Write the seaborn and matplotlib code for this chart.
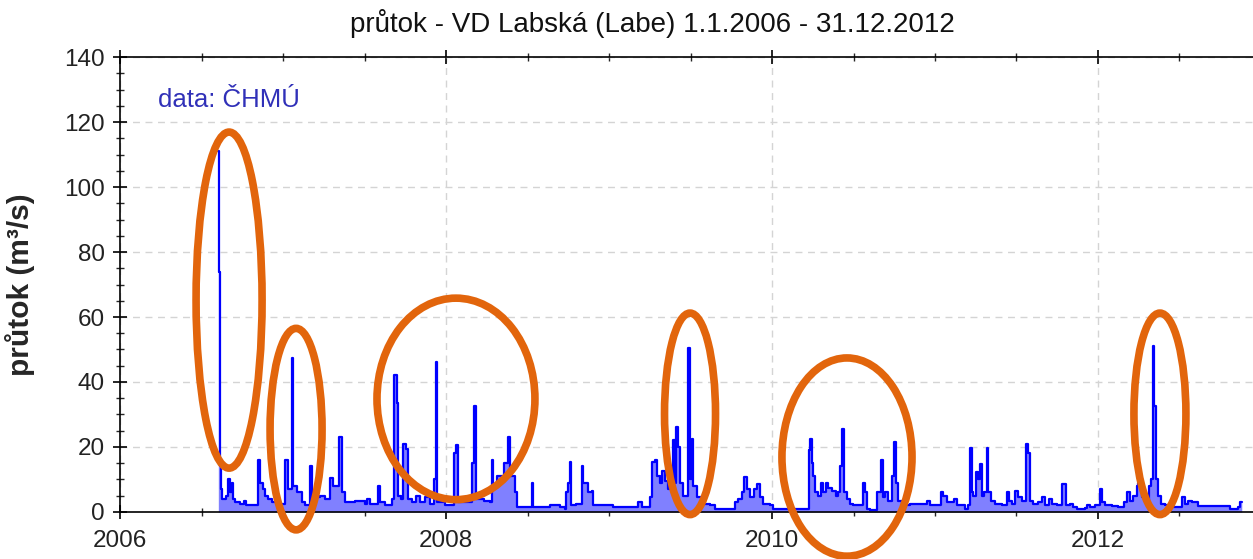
import numpy as np
import pandas as pd
import matplotlib
matplotlib.use("Agg")
import matplotlib.pyplot as plt
from matplotlib.patches import Ellipse
from matplotlib.ticker import MultipleLocator
import seaborn as sns

# průtok VD Labská (čas v desetinných rocích od 2006)
years_frac = [
    0.603, 0.609, 0.615, 0.620, 0.626, 0.650, 0.664, 0.675, 0.685, 0.693, 0.706, 0.736, 0.763, 0.773,
    0.828, 0.845, 0.859, 0.877, 0.890, 0.908, 0.931, 0.961, 0.975, 1.012, 1.033, 1.057, 1.063, 1.086,
    1.115, 1.135, 1.166, 1.175, 1.196, 1.227, 1.258, 1.288, 1.309, 1.339, 1.344, 1.360, 1.380, 1.442,
    1.503, 1.513, 1.534, 1.585, 1.595,
    1.626, 1.667, 1.681, 1.698, 1.707, 1.724, 1.738, 1.755, 1.764, 1.791, 1.816, 1.840, 1.871, 1.902,
    1.926, 1.937, 1.947, 1.994, 2.035, 2.048, 2.061, 2.072, 2.117, 2.158, 2.161, 2.172, 2.184, 2.233,
    2.270, 2.280, 2.290, 2.311, 2.351, 2.356, 2.382, 2.393, 2.413, 2.423, 2.434, 2.515, 2.529, 2.535,
    2.607, 2.638, 2.699,
    2.730, 2.734, 2.750, 2.761, 2.767, 2.798, 2.828, 2.833, 2.843, 2.863, 2.873, 2.894, 2.904, 2.945,
    3.026, 3.170, 3.176, 3.200, 3.252, 3.262, 3.282, 3.293, 3.313, 3.323, 3.344, 3.364, 3.385, 3.395,
    3.405, 3.411, 3.426, 3.436, 3.456, 3.487, 3.497, 3.507, 3.518, 3.538, 3.569, 3.620, 3.650, 3.742,
    3.763, 3.773, 3.793, 3.814, 3.830, 3.845, 3.865, 3.890, 3.906, 3.926, 3.947, 3.988, 4.008, 4.018,
    4.223, 4.227, 4.233, 4.244, 4.253, 4.264, 4.284, 4.299, 4.315, 4.331, 4.346, 4.366, 4.393, 4.407,
    4.417, 4.431, 4.442, 4.458, 4.479, 4.499, 4.557, 4.560, 4.571, 4.585, 4.601, 4.636, 4.642, 4.667,
    4.683, 4.693, 4.714, 4.734, 4.748, 4.759, 4.775, 4.796, 4.847, 4.877,
    4.939, 4.949, 4.969, 5.020, 5.037, 5.051, 5.072, 5.102, 5.118, 5.133, 5.184, 5.204, 5.215, 5.225,
    5.235, 5.252, 5.262, 5.276, 5.287, 5.303, 5.317, 5.327, 5.344, 5.368, 5.409, 5.440, 5.454, 5.471,
    5.491, 5.511, 5.532, 5.558, 5.572, 5.583, 5.603, 5.634, 5.655, 5.675, 5.699, 5.716, 5.747, 5.781,
    5.802, 5.828, 5.849, 5.869,
    5.920, 5.931, 5.951, 5.982, 6.012, 6.023, 6.043, 6.084, 6.125, 6.161, 6.176, 6.196, 6.217, 6.237,
    6.247, 6.268, 6.288, 6.313, 6.325, 6.336, 6.344, 6.354, 6.370, 6.387, 6.411, 6.452, 6.517, 6.534,
    6.550, 6.575, 6.615, 6.799, 6.810, 6.861, 6.871, 6.882,
]
flow = [
    111, 74, 14, 7, 4, 5, 10, 6, 9, 4, 3, 2.5, 3.5, 2,
    2, 16, 9, 7, 5, 4, 3, 4, 2.5, 16, 7, 47.5, 8, 6,
    3, 2, 14, 4, 4.5, 5, 4, 10.5, 8, 8, 23, 6, 3, 3.5,
    2.5, 4, 2.5, 8, 3,
    2, 4, 42, 33.5, 5, 4, 21, 19.5, 4, 3, 5, 3, 4.5, 2.5,
    10, 46, 3, 2, 2, 18, 20.5, 3, 3, 3, 15, 32.5, 4, 3.5,
    3, 16, 8, 11, 11, 15, 23, 11, 11, 6, 1.5, 1.5, 9, 1.5,
    1.5, 2, 1.5,
    1, 6, 9, 15.5, 2, 2.5, 2.5, 14, 9, 9, 6, 6.5, 2, 2,
    1.5, 1.5, 3, 1.5, 4.5, 15.5, 16, 11, 9, 12.5, 9.5, 7, 6, 22,
    9, 26, 20, 9, 5, 50.5, 10, 22.5, 8, 4.5, 2.5, 2, 1, 1,
    1, 3, 4, 6, 10.7, 7, 4.5, 7, 8.5, 4.5, 2.5, 2, 1, 0.8,
    0.8, 19, 22.5, 15, 11, 6, 5, 9, 6, 9, 7.5, 6.5, 5, 6,
    14, 25.4, 6, 4, 2.5, 2, 2, 9, 6, 1, 0.5, 0.5, 6, 16,
    4.5, 6, 3.5, 11, 21.6, 9, 3.5, 2, 2.5, 2.5,
    2.5, 3.5, 2, 2, 6, 5, 3, 3, 4, 2, 1, 2, 19.8, 6,
    5, 12.4, 10, 14.8, 5, 6, 19.8, 6, 3.5, 2.5, 2, 6, 3.5, 2.5,
    6.5, 4.5, 3.5, 21, 18, 3.5, 2.5, 3, 4.5, 2, 4, 2.5, 2, 8.5,
    2, 2.5, 1.5, 0.8,
    1.2, 2, 1.5, 2, 7, 3, 2, 1.7, 1.5, 3, 6, 3.5, 5, 8,
    9, 4.5, 3.5, 8, 10, 51, 32.6, 10, 5, 2.5, 2, 1.5, 4.5, 2.5,
    3.5, 3, 1.8, 1.8, 1, 1.5, 3, 3,
]

year_ticks = [2006, 2008, 2010, 2012]

# zvýrazněné oblasti (střed rok, střed průtok, šířka v letech, výška v m3/s)
ell_x = [2006.669, 2007.080, 2008.061, 2009.497, 2010.460, 2012.380]
ell_y = [65.2, 25.5, 34.8, 30.2, 16.9, 30.2]
ell_w = [0.405, 0.319, 0.969, 0.313, 0.798, 0.319]
ell_h = [103.4, 62, 62, 62, 61, 62]

df = pd.DataFrame({"rok": 2006 + np.array(years_frac), "prutok": flow})

sns.set_theme(style="ticks")
plt.rcParams["font.family"] = ["Liberation Sans", "DejaVu Sans"]

fig = plt.figure(figsize=(12.53, 5.59), dpi=100)
ax = fig.add_axes([0.0958, 0.0841, 0.9042, 0.8139])

ax.fill_between(df["rok"], 0, df["prutok"], step="post", color="#8080ff", lw=0)
sns.lineplot(data=df, x="rok", y="prutok", ax=ax, color="#0000ff", lw=1.6,
             drawstyle="steps-post", estimator=None, sort=False)

ax.set_xlim(2006, 2012.951)
ax.set_ylim(0, 140)
ax.xaxis.set_major_locator(MultipleLocator(2))
ax.xaxis.set_minor_locator(MultipleLocator(0.5))
ax.yaxis.set_major_locator(MultipleLocator(20))
ax.yaxis.set_minor_locator(MultipleLocator(5))
ax.set_xticks(year_ticks)
ax.set_xticklabels([str(y) for y in year_ticks])

ax.grid(True, which="major", color="#d4d4d4", ls=(0, (5, 4)), lw=1)
ax.tick_params(axis="both", which="major", direction="inout", length=10, width=1.2,
               labelsize=17.5, colors="black", labelcolor="#222222")
ax.tick_params(axis="both", which="minor", direction="inout", length=6, width=1.0)
ax.tick_params(axis="x", which="both", top=True)
ax.tick_params(axis="x", which="major", pad=8)
ax.tick_params(axis="y", which="major", pad=6)
for s in ["left", "bottom", "top"]:
    ax.spines[s].set_linewidth(1.2)
    ax.spines[s].set_color("black")
ax.spines["right"].set_visible(False)

ax.set_xlabel("")
ax.set_ylabel("průtok (m³/s)", fontsize=21.5, fontweight="bold")
ax.yaxis.set_label_coords(-0.075, 0.5)
fig.text(0.521, 0.958, "průtok - VD Labská (Labe) 1.1.2006 - 31.12.2012",
         ha="center", va="center", fontsize=20, color="#111111")
ax.text(2006.233, 126.8, "data: ČHMÚ", ha="left", va="center", fontsize=18.5, color="#3030b8")

for cx, cy, w, h in zip(ell_x, ell_y, ell_w, ell_h):
    ax.add_patch(Ellipse((cx, cy), w, h, fill=False, ec="#e2650c", lw=5.5,
                         clip_on=False, zorder=5))

fig.savefig("out.png", dpi=100)
